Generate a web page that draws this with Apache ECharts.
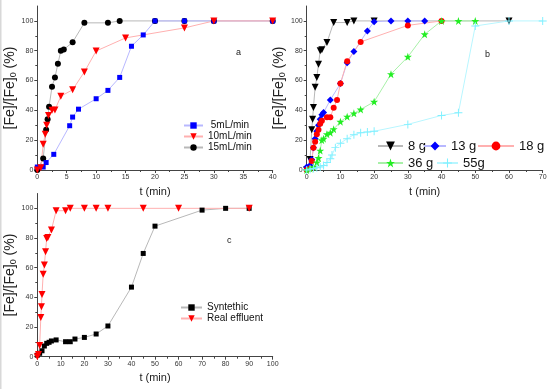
<!DOCTYPE html>
<html>
<head>
<meta charset="utf-8">
<script src="https://cdn.jsdelivr.net/npm/echarts@6/dist/echarts.min.js"></script>
<style>html,body{margin:0;padding:0;background:#fff;}#c{width:550px;height:389px;}</style>
</head>
<body>
<div id="c"></div>
<script>
// ---------- Panel a ----------
const a5_t  = [0, 1, 1.5, 2.8, 5.5, 6, 7, 10, 12, 14, 16, 18, 20, 25, 30, 40];
const a5_v  = [2, 2, 5, 10.5, 29.7, 35.5, 40.8, 47.8, 53.4, 62.1, 83, 90.6, 100, 100, 100, 100];
const a10_t = [0, 0.6, 1, 1.35, 1.6, 1.9, 2.5, 3, 4, 6, 8, 10, 15, 25, 30, 40];
const a10_v = [0, 1.5, 17.3, 24, 30, 36.5, 40, 40.3, 49.5, 53.8, 65.8, 79.8, 88.6, 95.3, 100, 100];
const a15_t = [0, 1, 1.5, 1.75, 2, 2.5, 3, 3.5, 4, 4.5, 6, 8, 12, 14, 20, 25, 30, 40];
const a15_v = [0, 7.7, 27, 34, 42.4, 55.9, 62.1, 71.2, 80, 80.8, 85.7, 98.7, 98.7, 100, 100, 100, 100, 100];

// ---------- Panel b ----------
const b8_t  = [0, 1, 1.5, 1.75, 2, 2.5, 3, 3.5, 4, 4.5, 6, 8, 12, 14, 20, 60];
const b8_v  = [0, 7, 27, 34, 42, 55.5, 62, 71, 80, 80.6, 85.5, 98.9, 98.9, 100, 100, 100];
const b13_t = [0, 1, 1.5, 2, 2.5, 3, 3.5, 4, 4.5, 5, 7, 10, 12, 14, 18, 20, 25, 30, 35];
const b13_v = [2, 3, 7, 15, 21, 26, 30, 34, 37, 38.5, 47, 58, 72, 79.4, 93.3, 99.5, 100, 100, 100];
const b18_t = [0, 1, 1.5, 2, 2.5, 3, 3.5, 4, 4.5, 6, 7, 8, 9, 10, 12, 16, 30, 40];
const b18_v = [0, 1, 6, 15, 19, 24, 27, 31, 33, 35.3, 35.3, 41.7, 47, 58, 73, 85.9, 97, 100];
const b36_t = [0, 1, 2, 3, 3.5, 4, 4.5, 5, 6, 7, 8, 10, 12, 14, 16, 20, 25, 30, 35, 40, 45, 50];
const b36_v = [0, 1, 2, 5, 8, 13, 20, 21, 24, 25, 27.4, 32.4, 35.8, 38, 40.6, 45.8, 64.3, 75.9, 91, 100, 100, 100];
const b55_t = [0, 1, 2, 3, 4, 5, 6, 7, 7.5, 8.5, 10, 12, 14, 16, 18, 20, 30, 40, 45, 50, 60, 70];
const b55_v = [0, 0.5, 1, 1.5, 2, 3, 5, 7.5, 10, 15, 18, 21, 23.7, 25, 25.5, 26, 30.6, 36.6, 38.4, 96.6, 100, 100];

// ---------- Panel c ----------
const cS_t = [0, 1, 2, 3, 4, 5, 6, 8, 12, 14, 16, 20, 25, 30, 40, 45, 50, 70, 80, 90];
const cS_v = [1, 2.3, 4, 7.2, 9, 9.7, 10.6, 11.3, 10.1, 10.1, 11.9, 13, 15.3, 20.7, 46.9, 69.6, 88, 98.8, 100, 100];
const cR_t = [0, 0.5, 1, 1.5, 1.75, 2, 2.5, 3, 3.5, 4, 4.5, 6, 8, 12, 14, 20, 25, 30, 45, 60, 90];
const cR_v = [0, 1.5, 7.5, 26.5, 33.7, 42, 55.5, 61.8, 70.8, 79.7, 80.4, 85.4, 98.4, 98.4, 100, 100, 100, 100, 100, 100, 100];

const y_ticks = [0, 20, 40, 60, 80, 100];
const y_minor = [10, 30, 50, 70, 90];
const y_name = '[Fe]/[Fe]{s|0} (%)';
const x_name = 't (min)';

const FONT = 'Liberation Sans, Arial, sans-serif';
const TRI_DOWN = 'path://M0,0 L10,0 L5,9 Z';
const STAR = 'path://M5,0 L6.2,3.6 L10,3.6 L7,5.9 L8.1,9.5 L5,7.3 L1.9,9.5 L3,5.9 L0,3.6 L3.8,3.6 Z';
const CROSS = 'path://M4.4,0 H5.6 V4.4 H10 V5.6 H5.6 V10 H4.4 V5.6 H0 V4.4 H4.4 Z';

function zip(t, v) { return t.map((x, i) => [x, v[i]]); }
function ser(name, t, v, color, lineColor, symbol, size, gi) {
  return {
    type: 'line', name: name, data: zip(t, v), xAxisIndex: gi, yAxisIndex: gi * 2,
    symbol: symbol, symbolSize: size, showSymbol: true,
    itemStyle: { color: color }, lineStyle: { color: lineColor, width: 1 },
    emphasis: { disabled: true }, animation: false
  };
}
function grid(l, r, t, b) { return { left: l, right: r, top: t, bottom: b, outerBoundsMode: 'none' }; }
const axisTxt = { fontSize: 7, color: '#333', fontFamily: FONT };
function xAx(gi, max, interval) {
  return {
    type: 'value', gridIndex: gi, min: 0, max: max, interval: interval,
    name: x_name, nameLocation: 'middle', nameGap: 16,
    nameTextStyle: { fontSize: 11, color: '#222', fontFamily: FONT },
    axisLine: { lineStyle: { color: '#444', width: 1 } },
    axisTick: { length: 3, lineStyle: { color: '#444' } },
    minorTick: { show: true, splitNumber: 2, length: 2, lineStyle: { color: '#444' } },
    axisLabel: Object.assign({ margin: 4 }, axisTxt),
    splitLine: { show: false }, minorSplitLine: { show: false }
  };
}
function yAxMain(gi) {
  return {
    type: 'value', gridIndex: gi, position: 'left', min: 0, max: 110, interval: 10,
    name: y_name, nameLocation: 'middle', nameGap: 17, nameRotate: 90,
    nameTextStyle: { fontSize: 14, color: '#222', fontFamily: FONT, rich: { s: { fontSize: 9, verticalAlign: 'bottom', padding: [7, 0, 0, 0], fontFamily: FONT, color: '#222' } } },
    axisLine: { show: true, lineStyle: { color: '#444', width: 1 } },
    axisTick: { show: true, length: 3, customValues: y_ticks, lineStyle: { color: '#444' } },
    axisLabel: Object.assign({ margin: 4, customValues: y_ticks }, axisTxt),
    splitLine: { show: false }
  };
}
function yAxMinor(gi) {
  return {
    type: 'value', gridIndex: gi, position: 'left', offset: 0, min: 0, max: 110, interval: 10,
    axisLine: { show: false }, axisLabel: { show: false }, splitLine: { show: false },
    axisTick: { show: true, length: 2, customValues: y_minor, lineStyle: { color: '#444' } }
  };
}
function lg(data, left, top, iw, ih, fs, formatter) {
  return {
    data: data, left: left, top: top, orient: 'vertical', itemWidth: iw, itemHeight: ih, itemGap: 0,
    selectedMode: false, padding: 0,
    textStyle: { fontSize: fs, lineHeight: fs + 1, color: '#111', fontFamily: FONT },
    formatter: formatter
  };
}

const chart = echarts.init(document.getElementById('c'), null, { renderer: 'canvas' });
chart.setOption({
  animation: false,
  backgroundColor: '#fff',
  grid: [grid(37.3, 277.3, 6, 219), grid(306.7, 7.3, 6, 219), grid(37.3, 277.3, 193.5, 32.3)],
  xAxis: [xAx(0, 40, 5), xAx(1, 70, 10), xAx(2, 100, 10)],
  yAxis: [yAxMain(0), yAxMinor(0), yAxMain(1), yAxMinor(1), yAxMain(2), yAxMinor(2)],
  legend: [
    lg(['5mL/min', '10mL/min', '15mL/min'], 183, 120, 19, 8, 10, n => n === '5mL/min' ? ' ' + n : n),
    lg(['8 g'], 377, 139, 25, 11, 13),
    lg(['13 g'], 423, 139, 22, 11, 13),
    lg(['18 g'], 477, 139, 36, 11, 13),
    lg(['36 g'], 377, 156, 25, 11, 13),
    lg(['55g'], 436, 156, 21, 11, 13),
    lg(['Syntethic', 'Real effluent'], 180, 302, 21, 8, 10)
  ],
  graphic: [
    { type: 'text', left: 236, top: 48, style: { text: 'a', font: '9px ' + FONT, fill: '#222' } },
    { type: 'text', left: 485, top: 50, style: { text: 'b', font: '9px ' + FONT, fill: '#222' } },
    { type: 'text', left: 227, top: 236, style: { text: 'c', font: '9px ' + FONT, fill: '#222' } },
    { type: 'rect', shape: { x: 0, y: 0, width: 1.5, height: 389 }, style: { fill: '#d8d8d8' } }
  ],
  series: [
    ser('15mL/min', a15_t, a15_v, '#000000', '#b8b8b8', 'circle', 6, 0),
    ser('5mL/min', a5_t, a5_v, '#0000ff', '#b8b8ff', 'rect', 5, 0),
    ser('10mL/min', a10_t, a10_v, '#ff0000', '#ffb0b0', TRI_DOWN, 7, 0),

    ser('8 g', b8_t, b8_v, '#000000', '#b8b8b8', TRI_DOWN, 7, 1),
    ser('13 g', b13_t, b13_v, '#0000ff', '#b8b8ff', 'diamond', 7, 1),
    ser('18 g', b18_t, b18_v, '#ff0000', '#ffb0b0', 'circle', 6, 1),
    ser('36 g', b36_t, b36_v, '#22ee22', '#a8f0a8', STAR, 8, 1),
    ser('55g', b55_t, b55_v, '#7ff0ff', '#b8f6ff', CROSS, 8, 1),

    ser('Syntethic', cS_t, cS_v, '#000000', '#b8b8b8', 'rect', 5, 2),
    ser('Real effluent', cR_t, cR_v, '#ff0000', '#ffb0b0', TRI_DOWN, 7, 2)
  ]
});
</script>
</body>
</html>
